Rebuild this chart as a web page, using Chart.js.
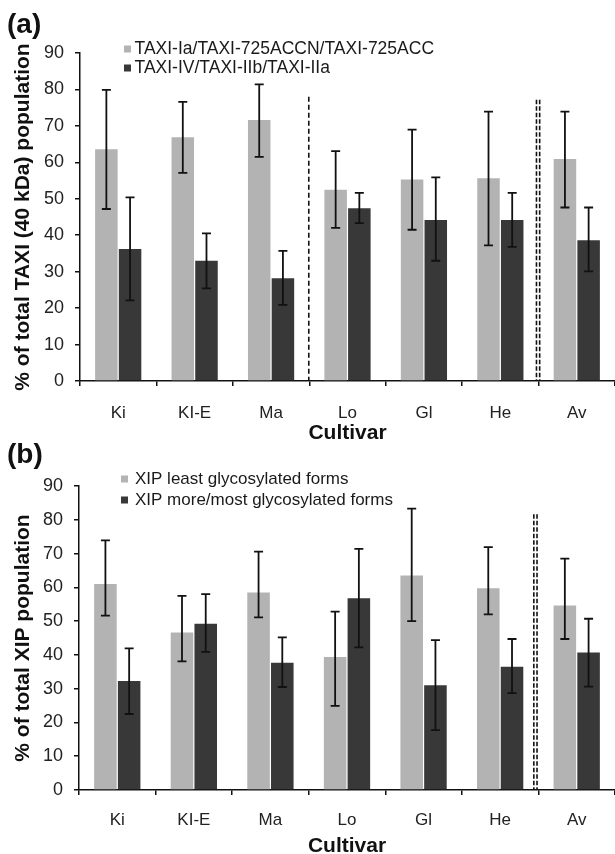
<!DOCTYPE html>
<html>
<head>
<meta charset="utf-8">
<script src="https://cdn.jsdelivr.net/npm/chart.js@4.4.0/dist/chart.umd.min.js"></script>
<style>
  html, body { margin: 0; padding: 0; background: #fff; overflow: hidden; }
  body { width: 615px; height: 854px; position: relative; }
  #wrapA { position: absolute; left: 0; top: 0; width: 615px; height: 450px; }
  #wrapB { position: absolute; left: 0; top: 424px; width: 615px; height: 440px; }
</style>
</head>
<body>
<div id="wrapA"><canvas id="chartA" width="615" height="450"></canvas></div>
<div id="wrapB"><canvas id="chartB" width="615" height="440"></canvas></div>
<script>
// cultivars on the x axis (same in both panels)
var cultivars = ['Ki', 'KI-E', 'Ma', 'Lo', 'Gl', 'He', 'Av'];
var yTicks = [0, 10, 20, 30, 40, 50, 60, 70, 80, 90];

// panel (a) - TAXI
var taxiLight   = [63.6, 66.9, 71.6, 52.5, 55.3, 55.6, 60.9];
var taxiLightHi = [79.9, 76.6, 81.4, 63.1, 69.0, 73.9, 73.9];
var taxiLightLo = [47.2, 57.1, 61.5, 42.0, 41.5, 37.2, 47.6];
var taxiDark    = [36.2, 33.0, 28.2, 47.4, 44.2, 44.2, 38.6];
var taxiDarkHi  = [50.4, 40.5, 35.7, 51.6, 55.9, 51.6, 47.6];
var taxiDarkLo  = [22.1, 25.4, 20.9, 43.3, 33.0, 36.8, 30.1];

// panel (b) - XIP
var xipLight   = [61.0, 46.6, 58.5, 39.4, 63.5, 59.7, 54.6];
var xipLightHi = [73.9, 57.5, 70.6, 52.8, 83.3, 71.9, 68.5];
var xipLightLo = [51.6, 38.1, 51.1, 24.9, 50.0, 52.0, 44.7];
var xipDark    = [32.3, 49.2, 37.7, 56.8, 31.0, 36.5, 40.7];
var xipDarkHi  = [41.9, 58.0, 45.2, 71.4, 44.4, 44.7, 50.7];
var xipDarkLo  = [22.5, 40.9, 30.5, 42.2, 17.7, 28.7, 30.6];

// dashed separators: after which category index, and how high they go
var taxiSeparators = [{ after: 2, top: 78, lines: 1 }, { after: 5, top: 77.2, lines: 2 }];
var xipSeparators  = [{ after: 5, top: 81.6, lines: 2 }];

var LIGHT = '#b3b3b3';
var DARK = '#383838';
var FONT = '"Liberation Sans", Arial, Helvetica, sans-serif';

var extrasPlugin = {
    id: 'extras',
    afterDatasetsDraw: function(chart, args, opts) {
        var ctx = chart.ctx;
        var xs = chart.scales.x, ys = chart.scales.y;

        // dashed separators
        ctx.save();
        ctx.strokeStyle = '#111';
        ctx.lineWidth = 1.6;
        opts.separators.forEach(function(s) {
            var px = (xs.getPixelForValue(s.after) + xs.getPixelForValue(s.after + 1)) / 2 + (opts.sepShift || 0);
            var top = ys.getPixelForValue(s.top), bottom = ys.getPixelForValue(0);
            var offs = s.lines === 2 ? [-1.6, 1.6] : [0];
            ctx.setLineDash(s.lines === 2 ? [4.5, 2] : [5, 3]);
            offs.forEach(function(o) {
                ctx.beginPath();
                ctx.moveTo(px + o, top);
                ctx.lineTo(px + o, bottom);
                ctx.stroke();
            });
        });
        ctx.restore();

        // error bars
        ctx.save();
        ctx.strokeStyle = '#111';
        ctx.lineWidth = 1.8;
        chart.data.datasets.forEach(function(ds, i) {
            var meta = chart.getDatasetMeta(i);
            meta.data.forEach(function(bar, j) {
                var hi = ys.getPixelForValue(opts.hi[i][j]);
                var lo = ys.getPixelForValue(opts.lo[i][j]);
                ctx.beginPath();
                ctx.moveTo(bar.x, hi); ctx.lineTo(bar.x, lo);
                ctx.moveTo(bar.x - 4.5, hi); ctx.lineTo(bar.x + 4.5, hi);
                ctx.moveTo(bar.x - 4.5, lo); ctx.lineTo(bar.x + 4.5, lo);
                ctx.stroke();
            });
        });
        ctx.restore();
    },
    afterDraw: function(chart, args, opts) {
        var ctx = chart.ctx;
        ctx.save();
        ctx.textBaseline = 'middle';
        ctx.textAlign = 'left';

        // panel label
        ctx.fillStyle = '#111';
        ctx.font = 'bold 28px ' + FONT;
        ctx.fillText(opts.panel, 7, opts.panelY);

        // legend inside the plot
        ctx.font = opts.legend.size + 'px ' + FONT;
        chart.data.datasets.forEach(function(ds, i) {
            var cy = opts.legend.y + i * opts.legend.gap;
            ctx.fillStyle = ds.backgroundColor;
            ctx.fillRect(opts.legend.boxX, cy - 3.5, 7, 7);
            ctx.fillStyle = '#1a1a1a';
            ctx.fillText(ds.label, opts.legend.textX, cy + 0.5);
        });
        ctx.restore();
    }
};

function makeChart(id, labels, sets, yTitle, fit, extras) {
    return new Chart(document.getElementById(id), {
        type: 'bar',
        data: {
            labels: labels,
            datasets: sets.map(function(s) {
                return {
                    label: s.label,
                    data: s.data,
                    backgroundColor: s.color,
                    borderWidth: 0,
                    categoryPercentage: 0.62,
                    barPercentage: 0.95
                };
            })
        },
        options: {
            responsive: false,
            animation: false,
            layout: { padding: { left: 7, right: 0, top: fit.top, bottom: 0 } },
            plugins: {
                legend: { display: false },
                tooltip: { enabled: false },
                extras: extras
            },
            scales: {
                x: {
                    grid: { display: true, drawOnChartArea: false, drawTicks: true, tickLength: 5, color: '#111', lineWidth: 1.5, offset: true },
                    border: { display: true, color: '#111', width: 1.5 },
                    ticks: { color: '#222', font: { size: 17, family: FONT }, padding: fit.xPad },
                    title: { display: true, text: 'Cultivar', color: '#111', font: { size: 21, weight: 'bold', family: FONT }, padding: { top: 0, bottom: fit.titlePad } },
                    afterFit: function(s) { s.height = fit.xHeight; }
                },
                y: {
                    min: 0,
                    max: 90,
                    afterBuildTicks: function(s) { s.ticks = yTicks.map(function(v) { return { value: v }; }); },
                    grid: { display: true, drawOnChartArea: false, drawTicks: true, tickLength: 5, color: '#111', lineWidth: 1.5 },
                    border: { display: true, color: '#111', width: 1.5 },
                    ticks: { color: '#222', font: { size: 18, family: FONT }, padding: 11 },
                    title: { display: true, text: yTitle, color: '#111', font: { size: 21, weight: 'bold', family: FONT }, padding: { top: 4, bottom: 0 } },
                    afterFit: function(s) { s.width = fit.yWidth; }
                }
            }
        },
        plugins: [extrasPlugin]
    });
}

makeChart('chartA', cultivars, [
    { label: 'TAXI-Ia/TAXI-725ACCN/TAXI-725ACC', data: taxiLight, color: LIGHT },
    { label: 'TAXI-IV/TAXI-IIb/TAXI-IIa', data: taxiDark, color: DARK }
], '% of total TAXI (40 kDa) population',
{ top: 53, xHeight: 69, yWidth: 73, xPad: 16.8, titlePad: 4.4 },
{
    hi: [taxiLightHi, taxiDarkHi], lo: [taxiLightLo, taxiDarkLo],
    separators: taxiSeparators, sepShift: -0.5,
    panel: '(a)', panelY: 25,
    legend: { boxX: 124, textX: 134.5, y: 49, gap: 19, size: 17.5 }
});

makeChart('chartB', cultivars, [
    { label: 'XIP least glycosylated forms', data: xipLight, color: LIGHT },
    { label: 'XIP more/most glycosylated forms', data: xipDark, color: DARK }
], '% of total XIP population',
{ top: 62, xHeight: 74, yWidth: 72, xPad: 15.5, titlePad: 5.4 },
{
    hi: [xipLightHi, xipDarkHi], lo: [xipLightLo, xipDarkLo],
    separators: xipSeparators, sepShift: -3,
    panel: '(b)', panelY: 31,
    legend: { boxX: 121, textX: 135, y: 55, gap: 21, size: 17 }
});
</script>
</body>
</html>
